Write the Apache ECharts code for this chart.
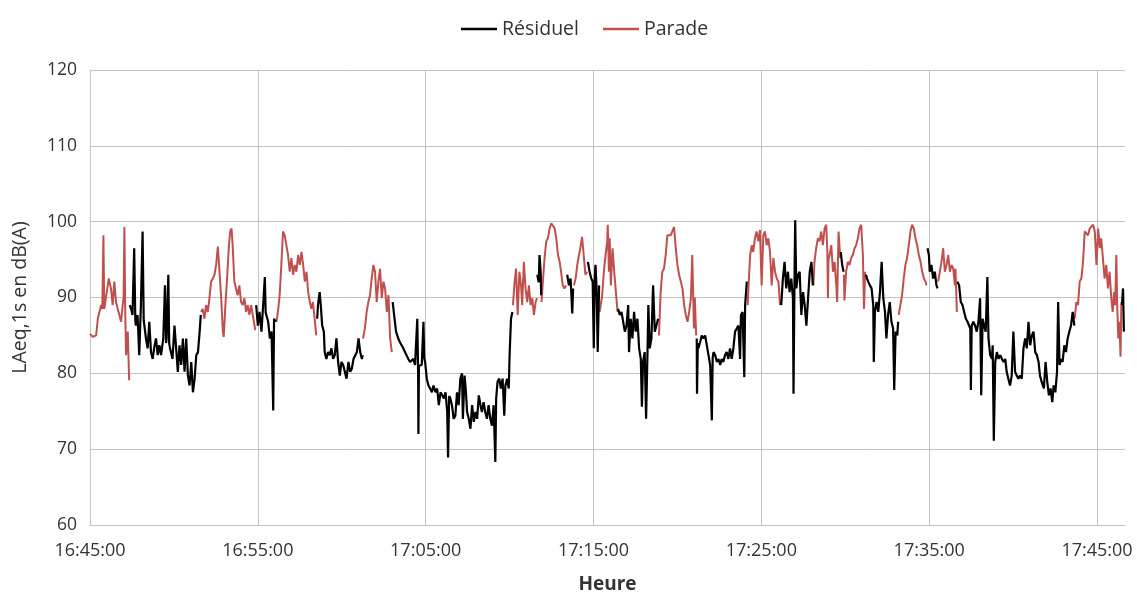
<!DOCTYPE html>
<html>
<head>
<meta charset="utf-8">
<script src="https://cdn.jsdelivr.net/npm/echarts@6/dist/echarts.min.js"></script>
<style>
html,body{margin:0;padding:0;background:#fff;}
#chart{width:1137px;height:593px;}
</style>
</head>
<body>
<div id="chart"></div>
<script>
// Time in seconds after 16:45:00, level in dB(A). null = gap between segments.
const startClock = 16 * 3600 + 45 * 60;
const yTicks = [60, 70, 80, 90, 100, 110, 120];
const seriesNames = ['Résiduel', 'Parade'];

const parade = [
  [0,85.2],[10,84.8],[22,85.0],[28,87.2],[40,89.0],[44,88.5],[48,98.2],[51,88.5],[60,90.7],[67,92.5],[75,91.2],[81,89.0],[87,92.1],[93,89.4],[99,88.5],[105,87.7],[111,86.8],[117,89.0],[120,90.0],[123,99.3],[126,88.0],[129,82.4],[135,85.5],[140,79.1],
  null,
  [397,88.1],[403,88.5],[409,87.2],[415,89.0],[421,88.1],[427,89.9],[433,92.1],[439,92.5],[445,93.0],[451,94.3],[457,96.7],[463,93.4],[469,89.9],[475,85.5],[478,84.8],[484,89.0],[490,92.5],[496,96.5],[501,98.7],[506,99.1],[510,96.9],[516,92.1],[522,91.2],[528,90.3],[534,91.6],[540,89.4],[546,89.0],[552,89.9],[558,88.1],[564,89.0],[570,87.7],[576,89.0],[582,87.7],[588,86.3],[591,85.7],
  null,
  [667,86.8],[673,88.5],[678,90.3],[684,94.3],[690,98.7],[696,98.2],[702,96.9],[708,95.6],[714,93.4],[720,95.2],[726,93.0],[732,94.3],[738,93.4],[744,95.6],[750,94.3],[756,96.0],[762,94.3],[768,92.1],[774,93.4],[780,90.7],[786,89.4],[791,88.5],[797,89.4],[803,87.2],[809,85.0],
  null,
  [976,84.6],[983,86.0],[989,88.1],[995,89.4],[1001,90.3],[1007,92.5],[1013,94.3],[1019,93.4],[1025,89.4],[1031,92.1],[1037,93.8],[1043,89.9],[1049,92.1],[1055,91.2],[1061,88.1],[1067,90.3],[1073,84.6],[1079,82.8],
  null,
  [1512,89.0],[1517,91.6],[1523,93.8],[1529,87.7],[1535,93.4],[1541,91.6],[1545,89.0],[1551,94.7],[1557,91.2],[1563,89.4],[1569,91.6],[1575,89.0],[1581,89.9],[1587,87.7],[1593,89.4],[1598,89.9],
  null,
  [1614,89.4],[1619,92.1],[1625,95.2],[1631,97.4],[1637,97.8],[1643,99.1],[1649,99.8],[1655,100.0],[1661,99.1],[1667,97.8],[1673,95.6],[1679,94.7],[1684,93.4],[1690,91.6],[1696,91.2],[1702,91.6],
  null,
  [1730,91.6],[1736,92.5],[1742,94.3],[1748,95.6],[1753,96.5],[1759,98.0],[1765,95.6],[1771,93.0],[1777,93.4],
  null,
  [1822,88.1],[1831,90.3],[1837,93.4],[1843,95.6],[1849,97.4],[1851,99.6],[1855,93.4],[1858,97.8],[1862,91.6],[1868,96.5],[1874,93.4],[1880,90.7],[1886,88.1],
  null,
  [2034,85.0],[2040,90.7],[2046,93.4],[2052,93.8],[2058,95.6],[2064,98.2],[2070,98.2],[2076,98.2],[2082,98.2],[2088,99.3],[2094,96.5],[2100,94.3],[2106,93.0],[2112,92.1],[2118,91.2],[2124,89.0],[2130,87.7],[2136,86.8],[2142,88.1],[2148,89.9],[2153,95.6],[2159,85.9],[2162,90.0],[2167,85.0],
  null,
  [2351,89.0],[2355,92.1],[2360,95.6],[2366,96.9],[2371,96.0],[2377,97.8],[2383,98.7],[2389,97.4],[2395,98.9],[2401,91.6],[2407,98.2],[2413,98.7],[2419,96.9],[2425,97.8],[2431,96.0],[2437,91.6],[2443,95.2],[2449,93.4],[2455,92.5],[2461,92.1],[2467,89.0],
  null,
  [2586,91.6],[2590,94.7],[2596,96.5],[2602,97.8],[2608,97.4],[2614,98.7],[2620,96.9],[2626,99.1],[2632,99.6],[2636,96.0],[2638,89.9],[2640,95.0],[2644,95.6],[2650,96.9],[2656,93.4],[2662,94.7],[2668,91.6],[2671,89.4],[2676,98.7],[2682,95.2],
  null,
  [2695,93.0],[2697,89.6],[2703,93.4],[2709,94.7],[2715,94.3],[2721,95.2],[2727,95.6],[2733,96.5],[2739,96.9],[2745,97.8],[2751,99.1],[2757,99.6],[2763,95.6],[2767,88.5],[2771,93.4],
  null,
  [2891,87.7],[2897,89.0],[2903,90.3],[2909,92.5],[2915,94.3],[2921,95.2],[2927,96.9],[2933,98.7],[2939,99.6],[2945,99.1],[2951,97.8],[2957,96.9],[2963,95.6],[2969,94.7],[2975,93.4],[2981,92.5],[2987,92.1],[2990,91.6],
  null,
  [3032,92.1],[3038,93.4],[3044,94.7],[3050,96.5],[3056,93.4],[3062,94.3],[3068,95.6],[3074,93.4],[3080,94.3],[3086,93.8],[3092,91.6],[3094,93.8],[3099,88.1],
  null,
  [3520,87.2],[3526,89.4],[3532,89.0],[3538,92.1],[3544,92.5],[3550,94.7],[3556,98.7],[3562,98.9],[3568,98.2],[3574,99.1],[3580,99.1],[3586,99.6],[3592,98.7],[3598,94.3],[3604,99.1],[3610,96.5],[3615,97.8],[3621,95.2],[3627,92.5],[3633,94.3],[3639,91.2],[3645,93.4],[3651,89.9],[3656,88.1],[3661,90.7],[3665,89.0],[3669,95.6],[3672,89.0],[3676,84.6],[3680,86.8],[3684,82.2],[3687,89.4]
];

const residuel = [
  [142,89.0],[147,88.5],[152,87.7],[158,96.5],[162,87.0],[164,86.3],[170,87.7],[176,82.4],[182,89.0],[188,98.7],[192,87.0],[194,86.8],[200,84.6],[206,83.3],[212,86.8],[218,82.8],[224,81.9],[230,83.5],[236,84.6],[242,82.4],[248,83.7],[254,82.4],[262,84.6],[268,91.6],[272,84.0],[274,84.6],[280,93.0],[283,84.0],[286,83.3],[295,81.9],
  [302,86.3],[308,83.3],[314,80.2],[320,83.7],[326,81.1],[332,84.6],[338,80.2],[344,84.6],[350,79.7],[356,78.4],[362,81.5],[368,77.5],[374,79.3],[380,82.4],[386,82.8],[392,85.5],[396,87.7],
  null,
  [594,89.0],[600,86.3],[606,88.1],[613,85.5],[619,89.0],[625,92.7],[628,88.0],[631,88.1],[637,86.8],[643,84.6],[649,85.5],[655,75.1],[658,87.2],[664,86.8],
  null,
  [812,87.2],[815,89.0],[821,90.7],[825,89.0],[830,86.3],[836,85.5],[839,82.8],[845,81.9],[851,82.8],[857,82.4],[863,83.3],[869,81.9],[875,82.4],[881,84.6],[887,81.5],[893,79.7],[899,81.5],[905,81.1],[911,80.2],[917,79.3],[924,81.5],[930,80.2],[936,80.6],[942,81.9],[948,81.9],[954,82.8],[960,84.6],[966,82.8],[972,81.9],[975,82.4],
  null,
  [1082,89.4],[1088,89.4],[1094,85.5],[1102,84.6],[1108,84.1],[1114,83.7],[1120,83.3],[1126,82.8],[1132,82.8],[1138,81.9],[1144,81.5],[1150,81.5],[1156,81.9],[1162,81.1],[1168,81.1],[1170,87.2],[1173,80.0],[1174,72.0],[1176,81.0],[1180,81.1],[1186,81.1],[1192,86.8],[1195,82.0],[1198,81.5],[1204,79.3],[1210,78.4],[1216,78.0],[1222,77.5],[1228,78.4],
  [1235,77.5],[1241,78.0],[1247,75.8],[1253,77.5],[1259,77.1],[1265,76.7],[1271,77.5],[1277,74.9],[1280,68.9],[1284,77.0],[1288,76.7],[1294,75.8],[1300,74.0],[1306,74.4],[1312,77.5],[1318,75.8],[1324,79.3],[1330,80.0],[1333,74.0],[1339,79.7],[1344,77.5],[1348,74.9],[1354,74.0],[1360,72.7],[1366,75.8],[1372,73.6],[1378,74.9],[1384,74.0],[1390,77.1],[1396,75.8],[1401,74.9],[1407,76.2],[1413,74.9],[1419,74.0],[1425,75.8],[1431,74.0],[1437,73.1],[1443,75.8],[1449,68.3],[1452,76.7],[1457,78.9],[1463,79.3],[1469,78.0],[1475,79.3],[1481,74.4],[1485,78.4],[1491,79.3],[1497,78.0],[1500,82.4],[1505,87.2],[1510,88.1],
  null,
  [1599,93.0],[1604,92.0],[1607,95.6],[1611,93.4],[1613,90.3],
  null,
  [1706,93.0],[1712,91.6],[1718,92.5],[1724,87.9],[1727,91.2],
  null,
  [1780,94.7],[1786,93.4],[1792,92.5],[1797,92.1],[1801,83.3],[1804,92.0],[1807,94.3],[1811,91.2],[1815,82.8],[1820,91.6],
  null,
  [1888,88.5],[1894,87.7],[1900,88.1],[1906,86.8],[1912,85.5],[1918,86.3],[1924,89.0],[1927,82.8],[1933,87.2],[1939,84.6],[1945,88.1],[1951,85.5],[1957,87.2],[1963,83.3],[1969,81.9],[1973,75.6],[1977,81.5],[1983,82.8],[1988,74.0],[1993,82.8],[1996,89.0],[2001,83.3],[2007,84.6],[2013,91.6],[2019,85.5],[2025,86.3],[2031,87.2],
  null,
  [2169,84.6],[2170,77.3],[2173,84.0],[2175,83.3],[2181,84.1],[2187,85.0],[2193,84.6],[2199,85.0],[2205,83.7],[2211,82.4],[2217,81.1],[2223,73.8],[2226,82.0],[2229,82.8],[2235,82.4],[2241,81.5],[2247,81.9],[2253,81.1],[2258,81.9],[2264,81.5],[2270,82.4],[2276,82.8],[2282,81.9],[2288,83.3],[2294,81.9],[2300,83.3],[2306,85.5],[2312,85.9],[2318,86.3],[2324,81.9],[2327,87.7],[2333,88.1],[2339,79.5],[2342,89.0],[2348,92.1],
  null,
  [2471,89.0],[2477,92.5],[2483,94.7],[2489,91.2],[2495,93.4],[2501,90.7],[2507,92.5],[2513,89.9],[2515,77.3],[2519,94.3],[2521,100.2],[2525,91.2],[2531,93.0],[2537,93.4],[2543,87.7],[2549,90.7],[2555,89.0],[2561,86.3],[2567,89.9],[2573,93.4],[2579,94.7],[2584,91.6],
  null,
  [2684,96.0],[2689,94.3],[2694,93.4],
  null,
  [2774,93.0],[2778,92.5],[2782,92.1],[2788,91.6],[2794,91.2],[2800,89.0],[2802,81.5],[2806,88.1],[2812,89.4],[2818,88.1],[2824,90.7],[2830,94.7],[2836,89.9],[2842,88.1],[2847,84.6],[2853,87.7],[2859,89.4],[2865,86.8],[2871,85.9],[2875,77.8],[2880,85.5],[2886,85.0],[2889,86.8],
  null,
  [2994,96.5],[2999,95.6],[3002,93.4],[3008,94.3],[3014,92.5],[3020,93.4],[3026,91.6],[3030,91.2],
  null,
  [3101,92.1],[3107,91.6],[3113,89.4],[3119,89.0],[3125,88.1],[3131,87.2],[3137,86.8],[3143,86.8],[3147,85.9],[3149,77.8],[3152,86.3],[3158,86.8],[3164,86.3],[3170,85.5],[3176,86.8],[3182,89.9],[3186,77.1],[3191,87.2],[3196,86.3],[3202,85.5],[3208,92.7],[3212,84.6],[3218,82.4],[3224,81.9],[3227,83.7],[3231,71.1],[3236,81.5],[3242,82.8],[3248,81.9],[3254,82.4],[3260,81.9],[3266,81.5],[3272,81.9],[3277,80.2],[3283,79.3],[3289,78.4],[3295,79.7],[3301,85.5],[3307,80.2],[3313,79.7],[3319,79.3],[3325,79.7],[3331,79.3],[3337,83.3],[3343,84.6],[3349,83.3],[3355,86.8],[3361,83.7],[3367,85.0],[3373,85.5],[3379,82.8],[3385,82.4],[3391,81.5],[3396,79.7],[3402,78.9],
  [3410,78.0],[3416,81.5],[3422,78.9],[3428,77.1],[3434,78.0],[3440,76.2],[3445,78.4],[3451,77.5],[3457,80.2],[3461,89.4],[3466,81.1],[3471,81.9],[3477,81.5],[3483,83.7],[3489,82.8],[3495,84.6],[3501,85.5],[3507,86.3],[3513,88.1],[3519,86.3],
  null,
  [3689,89.0],[3693,91.2],[3696,85.5]
];

function withGaps(arr) {
  return arr.map((p, i) => p === null ? [arr[i - 1][0] + 1, '-'] : p);
}
function clock(sec) {
  const s = startClock + sec;
  const h = Math.floor(s / 3600), m = Math.floor((s % 3600) / 60), ss = s % 60;
  const pad = n => String(n).padStart(2, '0');
  return h + ':' + pad(m) + ':' + pad(ss);
}

const FONT = 'Open Sans';
const TXT = '#333333';
const GRID = '#c3c3c3';
const BLACK = '#000000';
const RED = '#c0504d';

const chart = echarts.init(document.getElementById('chart'), null, {renderer: 'canvas'});
chart.setOption({
  animation: false,
  backgroundColor: '#fff',
  textStyle: {fontFamily: FONT},
  legend: {
    top: 14, left: 456,
    icon: 'rect', itemWidth: 36, itemHeight: 2.5, itemGap: 24,
    textStyle: {fontFamily: FONT, fontSize: 19.5, color: TXT},
    data: seriesNames
  },
  grid: {left: 90, right: 12, top: 70, bottom: 68, containLabel: false, outerBoundsMode: 'none'},
  xAxis: {
    type: 'value', min: 0, max: 3700, interval: 600,
    name: 'Heure', nameLocation: 'middle', nameGap: 50,
    nameTextStyle: {fontFamily: FONT, fontSize: 19, fontWeight: 'bold', color: TXT},
    axisLine: {show: true, lineStyle: {color: GRID, width: 1}},
    axisTick: {show: false},
    axisLabel: {fontFamily: FONT, fontSize: 18, color: TXT, margin: 17, showMaxLabel: false,
      formatter: v => (v % 600 === 0 ? clock(v) : '')},
    splitLine: {show: true, showMaxLine: false, lineStyle: {color: GRID, width: 1}}
  },
  yAxis: {
    type: 'value', min: yTicks[0], max: yTicks[yTicks.length - 1], interval: 10,
    name: 'LAeq,1s en dB(A)', nameLocation: 'middle', nameGap: 60, nameRotate: 90,
    nameTextStyle: {fontFamily: FONT, fontSize: 19.5, color: TXT},
    axisLine: {show: true, lineStyle: {color: GRID, width: 1}},
    axisTick: {show: false},
    axisLabel: {fontFamily: FONT, fontSize: 17.5, color: TXT, margin: 13},
    splitLine: {show: true, lineStyle: {color: GRID, width: 1}}
  },
  series: [
    {name: seriesNames[0], type: 'line', data: withGaps(residuel), showSymbol: false, symbol: 'none',
     connectNulls: false, lineStyle: {color: BLACK, width: 2.2}, itemStyle: {color: BLACK}, z: 3},
    {name: seriesNames[1], type: 'line', data: withGaps(parade), showSymbol: false, symbol: 'none',
     connectNulls: false, lineStyle: {color: RED, width: 2}, itemStyle: {color: RED}, z: 2}
  ]
});
</script>
</body>
</html>
